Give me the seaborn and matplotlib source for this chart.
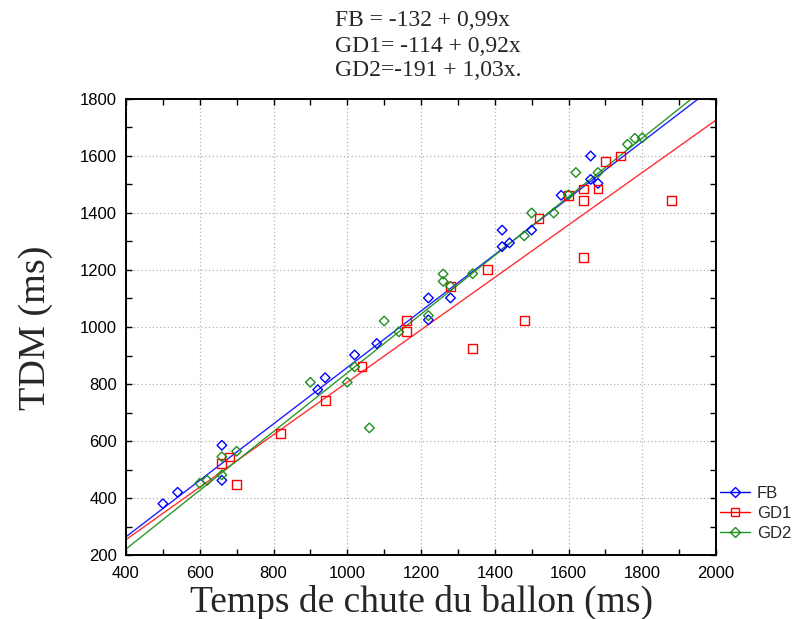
import matplotlib
matplotlib.use("Agg")
import matplotlib.pyplot as plt
from matplotlib.lines import Line2D
from matplotlib.ticker import MultipleLocator
import numpy as np
import pandas as pd
import seaborn as sns

# ---------------- data ----------------
series_names = ["FB", "GD1", "GD2"]

FB_x = [500, 540, 660, 660, 920, 940, 1020, 1080, 1220, 1220, 1280, 1420, 1420, 1440, 1500, 1580, 1660, 1660, 1680]
FB_y = [380, 420, 585, 462, 780, 822, 902, 942, 1102, 1025, 1102, 1340, 1282, 1295, 1340, 1462, 1600, 1518, 1504]

GD1_x = [660, 680, 700, 820, 940, 1040, 1160, 1160, 1280, 1340, 1380, 1480, 1520, 1600, 1640, 1640, 1640, 1680, 1700, 1740, 1880]
GD1_y = [522, 544, 447, 625, 743, 862, 983, 1023, 1143, 925, 1202, 1023, 1381, 1462, 1484, 1443, 1243, 1484, 1582, 1600, 1443]

GD2_x = [600, 620, 660, 660, 700, 900, 1000, 1020, 1060, 1100, 1140, 1220, 1260, 1260, 1280, 1340, 1480, 1500, 1560, 1600, 1620, 1680, 1760, 1780, 1800]
GD2_y = [452, 462, 545, 481, 564, 806, 806, 860, 646, 1021, 983, 1040, 1186, 1160, 1143, 1187, 1320, 1400, 1400, 1464, 1542, 1542, 1641, 1662, 1664]

intercepts = [-132, -114, -191]
slopes = [0.99, 0.92, 1.03]

equation_lines = ["FB = -132 + 0,99x", "GD1= -114 + 0,92x", "GD2=-191 + 1,03x."]
x_label = "Temps de chute du ballon (ms)"
y_label = "TDM (ms)"

# ---------------- style ----------------
colors = ["#0000ff", "#ff0000", "#1f8f1f"]
line_colors = ["#2020ff", "#ff3030", "#2a9a2a"]
markers = ["D", "s", "D"]
sizes = [24, 40, 24]

sns.set_theme(style="white")
plt.rcParams["font.family"] = ["Liberation Sans", "DejaVu Sans"]

fig = plt.figure(figsize=(7.96, 6.19), dpi=100)
ax = fig.add_axes([126 / 796, 1 - 555 / 619, (716 - 126) / 796, (555 - 99) / 619])

xs = [FB_x, GD1_x, GD2_x]
ys = [FB_y, GD1_y, GD2_y]

# regression lines from the published equations
x_line = np.array([400.0, 2000.0])
for name, a, b, lc in zip(series_names, intercepts, slopes, line_colors):
    df_line = pd.DataFrame({"x": x_line, "y": a + b * x_line})
    sns.lineplot(data=df_line, x="x", y="y", ax=ax, color=lc, linewidth=1.0,
                 legend=False, zorder=2)

for name, x, y, c, m, s in zip(series_names, xs, ys, colors, markers, sizes):
    df = pd.DataFrame({"x": x, "y": y})
    sns.scatterplot(data=df, x="x", y="y", ax=ax, marker=m, s=s,
                    facecolors="none", edgecolors=c, linewidth=1.0,
                    legend=False, zorder=3)

ax.set_xlim(400, 2000)
ax.set_ylim(200, 1800)
ax.xaxis.set_major_locator(MultipleLocator(200))
ax.yaxis.set_major_locator(MultipleLocator(200))
ax.xaxis.set_minor_locator(MultipleLocator(100))
ax.yaxis.set_minor_locator(MultipleLocator(100))
ax.tick_params(which="both", direction="in", top=True, right=True,
               bottom=True, left=True, length=4, width=1, color="black",
               labelsize=12, labelcolor="black")
ax.tick_params(axis="y", pad=6.5)
ax.tick_params(axis="x", pad=8)
ax.grid(True, which="major", linestyle=(0, (1, 2)), color="#b0b0b0", linewidth=0.9)
for sp in ax.spines.values():
    sp.set_visible(True)
    sp.set_color("black")
    sp.set_linewidth(1.4)

ax.set_xlabel("")
ax.set_ylabel("")

serif = ["Liberation Serif", "DejaVu Serif"]
fig.text(422 / 796, 1 - 602 / 619, x_label, ha="center", va="center",
         fontsize=27, family=serif)
fig.text(36 / 796, 1 - 328 / 619, y_label, ha="center", va="center",
         fontsize=27.5, family=serif, rotation=90)

for i, t in enumerate(equation_lines):
    fig.text(335 / 796, 1 - (21 + 25 * i) / 619, t, ha="left", va="center",
             fontsize=17, family=serif)

handles = [Line2D([0], [0], color=c, marker=m, markerfacecolor="none",
                  markeredgecolor=c, markersize=5.5, linewidth=1.0)
           for c, m in zip(colors, markers)]
fig.legend(handles, series_names, loc="upper left",
           bbox_to_anchor=(720 / 796, 1 - 486 / 619), frameon=False,
           fontsize=12, handlelength=1.8, handletextpad=0.4,
           labelspacing=0.3, borderaxespad=0, borderpad=0)

fig.savefig("out.png", dpi=100, facecolor="white")
